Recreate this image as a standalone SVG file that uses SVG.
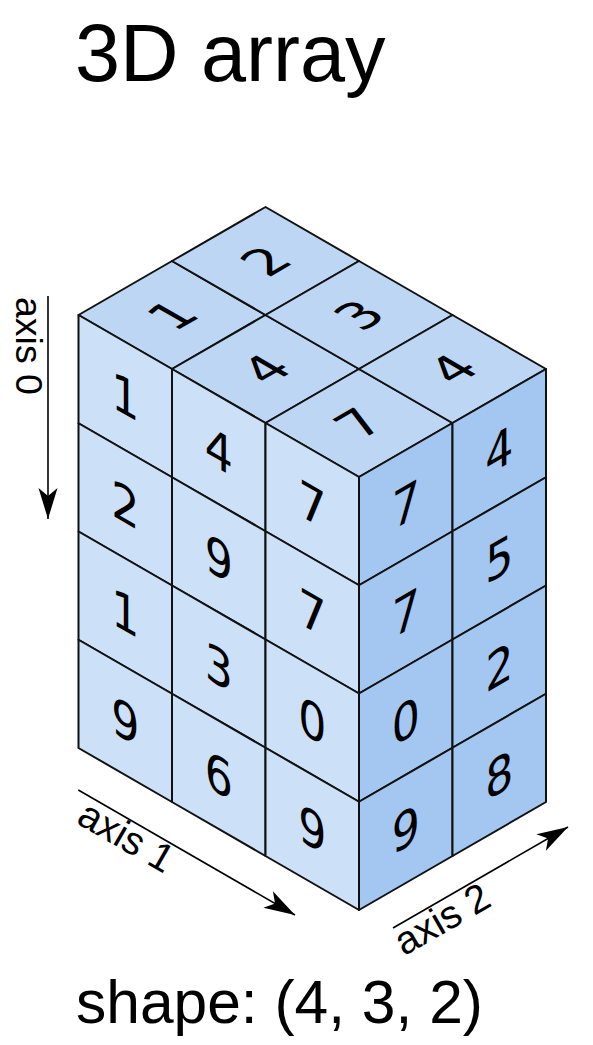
<svg xmlns="http://www.w3.org/2000/svg" width="593" height="1045" viewBox="0 0 593 1045">
<style>
.top{fill:#bdd6f3;stroke:#111;stroke-width:2;stroke-linejoin:round}
.front{fill:#cce0f8;stroke:#111;stroke-width:2;stroke-linejoin:round}
.right{fill:#a3c7f0;stroke:#111;stroke-width:2;stroke-linejoin:round}
.num{font-family:"DejaVu Sans",sans-serif;font-size:51px;text-anchor:middle;fill:#000}
.lbl{font-family:"Liberation Sans",Arial,sans-serif;fill:#000}
.axis{font-family:"Liberation Sans",Arial,sans-serif;font-size:39.5px;fill:#000}
.arrow{stroke:#000;stroke-width:1.6;fill:none}
</style>
<defs>
<marker id="arr" markerUnits="userSpaceOnUse" viewBox="-32 -12 34 24" refX="0" refY="0" markerWidth="34" markerHeight="24" orient="auto" overflow="visible">
<path d="M0,0 L-31,-9.5 L-23,0 L-31,9.5 Z" fill="#000"/>
</marker>
</defs>
<rect width="593" height="1045" fill="#fff"/>
<text id="title" class="lbl" x="75" y="81" font-size="81">3D array</text>

<g id="top-cells">
<g id="t00"><polygon class="top" points="78.5,315 172,261 265.5,315 172,369"/><text class="num" transform="translate(172,315) matrix(0.866,-0.5,0.866,0.5,0,0)" y="18.5">1</text></g>
<g id="t01"><polygon class="top" points="172,261 265.5,207 359,261 265.5,315"/><text class="num" transform="translate(265.5,261) matrix(0.866,-0.5,0.866,0.5,0,0)" y="18.5">2</text></g>
<g id="t10"><polygon class="top" points="172,369 265.5,315 359,369 265.5,423"/><text class="num" transform="translate(265.5,369) matrix(0.866,-0.5,0.866,0.5,0,0)" y="18.5">4</text></g>
<g id="t11"><polygon class="top" points="265.5,315 359,261 452.5,315 359,369"/><text class="num" transform="translate(359,315) matrix(0.866,-0.5,0.866,0.5,0,0)" y="18.5">3</text></g>
<g id="t20"><polygon class="top" points="265.5,423 359,369 452.5,423 359,477"/><text class="num" transform="translate(359,423) matrix(0.866,-0.5,0.866,0.5,0,0)" y="18.5">7</text></g>
<g id="t21"><polygon class="top" points="359,369 452.5,315 546,369 452.5,423"/><text class="num" transform="translate(452.5,369) matrix(0.866,-0.5,0.866,0.5,0,0)" y="18.5">4</text></g>
</g>

<g id="front-cells">
<g id="f00"><polygon class="front" points="78.5,315 172,369 172,477.25 78.5,423.25"/><text class="num" transform="translate(125.25,396.125) matrix(0.866,0.5,0,1,0,0)" y="18.5">1</text></g>
<g id="f01"><polygon class="front" points="78.5,423.25 172,477.25 172,585.5 78.5,531.5"/><text class="num" transform="translate(125.25,504.375) matrix(0.866,0.5,0,1,0,0)" y="18.5">2</text></g>
<g id="f02"><polygon class="front" points="78.5,531.5 172,585.5 172,693.75 78.5,639.75"/><text class="num" transform="translate(125.25,612.625) matrix(0.866,0.5,0,1,0,0)" y="18.5">1</text></g>
<g id="f03"><polygon class="front" points="78.5,639.75 172,693.75 172,802 78.5,748"/><text class="num" transform="translate(125.25,720.875) matrix(0.866,0.5,0,1,0,0)" y="18.5">9</text></g>
<g id="f10"><polygon class="front" points="172,369 265.5,423 265.5,531.25 172,477.25"/><text class="num" transform="translate(218.75,450.125) matrix(0.866,0.5,0,1,0,0)" y="18.5">4</text></g>
<g id="f11"><polygon class="front" points="172,477.25 265.5,531.25 265.5,639.5 172,585.5"/><text class="num" transform="translate(218.75,558.375) matrix(0.866,0.5,0,1,0,0)" y="18.5">9</text></g>
<g id="f12"><polygon class="front" points="172,585.5 265.5,639.5 265.5,747.75 172,693.75"/><text class="num" transform="translate(218.75,666.625) matrix(0.866,0.5,0,1,0,0)" y="18.5">3</text></g>
<g id="f13"><polygon class="front" points="172,693.75 265.5,747.75 265.5,856 172,802"/><text class="num" transform="translate(218.75,774.875) matrix(0.866,0.5,0,1,0,0)" y="18.5">6</text></g>
<g id="f20"><polygon class="front" points="265.5,423 359,477 359,585.25 265.5,531.25"/><text class="num" transform="translate(312.25,504.125) matrix(0.866,0.5,0,1,0,0)" y="18.5">7</text></g>
<g id="f21"><polygon class="front" points="265.5,531.25 359,585.25 359,693.5 265.5,639.5"/><text class="num" transform="translate(312.25,612.375) matrix(0.866,0.5,0,1,0,0)" y="18.5">7</text></g>
<g id="f22"><polygon class="front" points="265.5,639.5 359,693.5 359,801.75 265.5,747.75"/><text class="num" transform="translate(312.25,720.625) matrix(0.866,0.5,0,1,0,0)" y="18.5">0</text></g>
<g id="f23"><polygon class="front" points="265.5,747.75 359,801.75 359,910 265.5,856"/><text class="num" transform="translate(312.25,828.875) matrix(0.866,0.5,0,1,0,0)" y="18.5">9</text></g>
</g>

<g id="right-cells">
<g id="r00"><polygon class="right" points="359,477 452.5,423 452.5,531.25 359,585.25"/><text class="num" transform="translate(405.75,504.125) matrix(0.866,-0.5,0,1,0,0)" y="18.5">7</text></g>
<g id="r01"><polygon class="right" points="359,585.25 452.5,531.25 452.5,639.5 359,693.5"/><text class="num" transform="translate(405.75,612.375) matrix(0.866,-0.5,0,1,0,0)" y="18.5">7</text></g>
<g id="r02"><polygon class="right" points="359,693.5 452.5,639.5 452.5,747.75 359,801.75"/><text class="num" transform="translate(405.75,720.625) matrix(0.866,-0.5,0,1,0,0)" y="18.5">0</text></g>
<g id="r03"><polygon class="right" points="359,801.75 452.5,747.75 452.5,856 359,910"/><text class="num" transform="translate(405.75,828.875) matrix(0.866,-0.5,0,1,0,0)" y="18.5">9</text></g>
<g id="r10"><polygon class="right" points="452.5,423 546,369 546,477.25 452.5,531.25"/><text class="num" transform="translate(499.25,450.125) matrix(0.866,-0.5,0,1,0,0)" y="18.5">4</text></g>
<g id="r11"><polygon class="right" points="452.5,531.25 546,477.25 546,585.5 452.5,639.5"/><text class="num" transform="translate(499.25,558.375) matrix(0.866,-0.5,0,1,0,0)" y="18.5">5</text></g>
<g id="r12"><polygon class="right" points="452.5,639.5 546,585.5 546,693.75 452.5,747.75"/><text class="num" transform="translate(499.25,666.625) matrix(0.866,-0.5,0,1,0,0)" y="18.5">2</text></g>
<g id="r13"><polygon class="right" points="452.5,747.75 546,693.75 546,802 452.5,856"/><text class="num" transform="translate(499.25,774.875) matrix(0.866,-0.5,0,1,0,0)" y="18.5">8</text></g>
</g>

<g id="connectors">
<line class="arrow" x1="48" y1="296" x2="48" y2="519" marker-end="url(#arr)"/>
<line class="arrow" x1="78.3" y1="790" x2="295" y2="915" marker-end="url(#arr)"/>
<line class="arrow" x1="393" y1="928" x2="568" y2="827" marker-end="url(#arr)"/>
</g>

<g id="axis-labels">
<text id="axis0" class="axis" style="font-size:37.5px" transform="translate(16,297) rotate(90)">axis 0</text>
<text id="axis1" class="axis" transform="translate(75,822.5) rotate(30)">axis 1</text>
<text id="axis2" class="axis" transform="translate(404,956.5) rotate(-30)">axis 2</text>
</g>

<text id="shape" class="lbl" x="76" y="1023" font-size="60.5">shape: (4, 3, 2)</text>
</svg>
